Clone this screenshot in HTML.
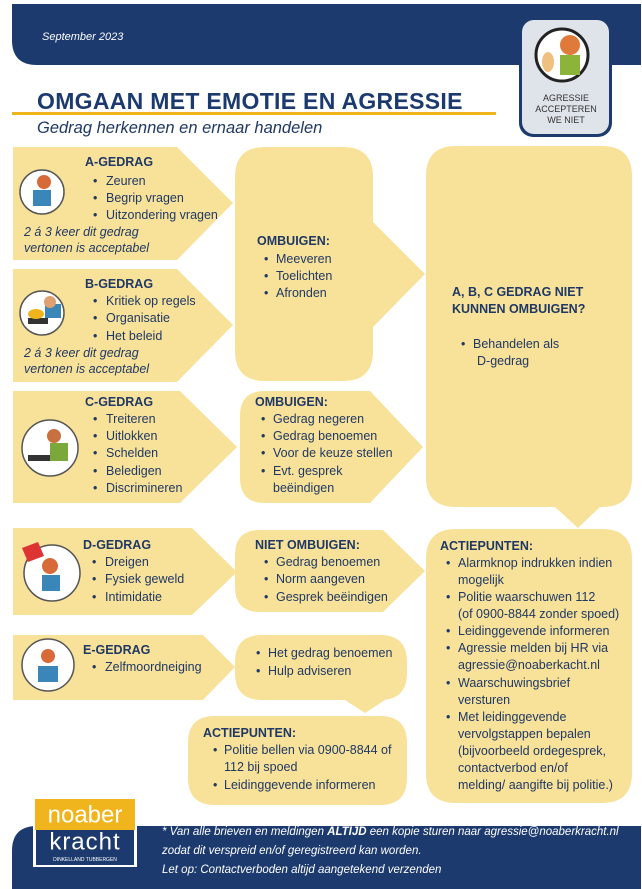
<!DOCTYPE html>
<html><head><meta charset="utf-8"><style>
html,body{margin:0;padding:0;background:#fff;}
svg{display:block;font-family:"Liberation Sans",sans-serif;}
.t{font-size:12.5px;fill:#1f3864;dominant-baseline:central;}
.b{font-size:12.5px;font-weight:bold;fill:#1f3864;dominant-baseline:central;}
.i{font-size:12.5px;font-style:italic;fill:#1f3864;dominant-baseline:central;}
.f{font-size:11.5px;font-style:italic;fill:#fff;dominant-baseline:central;}
</style></head><body>
<svg width="642" height="889" viewBox="0 0 642 889" xmlns="http://www.w3.org/2000/svg">
<!-- header -->
<path d="M12 4 H641 V65 H37 Q12 65 12 40 Z" fill="#1c3a6e"/>
<text x="42" y="37" class="f" style="font-size:11px">September 2023</text>
<rect x="519" y="17" width="93" height="120" rx="14" fill="#1c3a6e"/>
<rect x="522" y="20" width="87" height="114" rx="12" fill="#dfe3ea"/>
<circle cx="562" cy="55" r="26" fill="#fff" stroke="#222" stroke-width="3"/>
<circle cx="570" cy="45" r="10" fill="#e07a3a"/>
<rect x="560" y="55" width="20" height="20" fill="#8cb33a"/>
<ellipse cx="548" cy="62" rx="6" ry="10" fill="#f0c080"/>
<text x="566" y="101" text-anchor="middle" style="font-size:9px;fill:#333">AGRESSIE</text>
<text x="566" y="112" text-anchor="middle" style="font-size:9px;fill:#333">ACCEPTEREN</text>
<text x="566" y="123" text-anchor="middle" style="font-size:9px;fill:#333">WE NIET</text>
<text x="37" y="101" style="font-size:23px;font-weight:bold;fill:#1c3a6e;dominant-baseline:central;letter-spacing:0.3px">OMGAAN MET EMOTIE EN AGRESSIE</text>
<rect x="12" y="112" width="484" height="3" fill="#f0b41c"/>
<text x="37" y="128" style="font-size:16.5px;font-style:italic;fill:#1f3864;dominant-baseline:central">Gedrag herkennen en ernaar handelen</text>

<g fill="#f8e29a">
<!-- A / B -->
<path d="M13 147 H177 L233 203 L177 260 H13 Z"/>
<path d="M13 269 H177 L233 325 L177 382 H13 Z"/>
<!-- Ombuigen 1 -->
<path d="M265 147 H343 Q373 147 373 177 V222 L425 274 L373 327 V351 Q373 381 343 381 H265 Q235 381 235 351 V177 Q235 147 265 147 Z"/>
<!-- right big box -->
<path d="M456 146 H602 Q632 146 632 176 V477 Q632 507 602 507 H600 L578 528 L555 507 H456 Q426 507 426 477 V176 Q426 146 456 146 Z"/>
<path d="M456 529 H602 Q632 529 632 559 V773 Q632 803 602 803 H456 Q426 803 426 773 V559 Q426 529 456 529 Z"/>
<!-- C -->
<path d="M13 391 H180 L237 447 L180 503 H13 Z"/>
<path d="M265 391 H370 L423 447 L370 503 H265 Q240 503 240 478 V416 Q240 391 265 391 Z"/>
<!-- D -->
<path d="M13 528 H192 L237 572 L192 615 H13 Z"/>
<path d="M260 530 H383 L425 571 L383 612 H260 Q235 612 235 587 V555 Q235 530 260 530 Z"/>
<!-- E -->
<path d="M13 635 H203 L235 667 L203 700 H13 Z"/>
<path d="M262 635 H380 Q407 635 407 662 V673 Q407 700 380 700 H385 L365 713 L345 700 H262 Q235 700 235 673 V662 Q235 635 262 635 Z"/>
<path d="M215 716 H380 Q407 716 407 743 V778 Q407 805 380 805 H215 Q188 805 188 778 V743 Q188 716 215 716 Z"/>
</g>

<!-- icons -->
<g stroke="#555" stroke-width="1.5" fill="#fff">
<circle cx="42" cy="192" r="22"/><circle cx="42" cy="313" r="22"/>
<circle cx="50" cy="448" r="28"/><circle cx="52" cy="573" r="28"/><circle cx="48" cy="665" r="26"/>
</g>
<rect x="33" y="190" width="18" height="16" fill="#3a86b8"/><circle cx="44" cy="182" r="7" fill="#d86a3a"/>
<rect x="45" y="304" width="16" height="14" fill="#3a86b8"/><circle cx="50" cy="302" r="6" fill="#e0a070"/><rect x="28" y="318" width="20" height="6" fill="#333"/><ellipse cx="36" cy="314" rx="8" ry="5" fill="#f0b41c"/>
<rect x="50" y="443" width="18" height="18" fill="#7aa83a"/><circle cx="54" cy="436" r="7" fill="#c87040"/><rect x="28" y="455" width="22" height="6" fill="#333"/>
<rect x="42" y="575" width="18" height="16" fill="#3a86b8"/><circle cx="50" cy="566" r="8" fill="#d86a3a"/><path d="M22 548 L38 542 L44 556 L28 562 Z" fill="#d33"/>
<rect x="38" y="666" width="20" height="16" fill="#3a86b8"/><circle cx="48" cy="656" r="7" fill="#d86a3a"/>

<!-- A -->
<text x="85" y="162" class="b">A-GEDRAG</text>
<g class="t"><text x="93" y="181">•</text><text x="106" y="181">Zeuren</text>
<text x="93" y="198">•</text><text x="106" y="198">Begrip vragen</text>
<text x="93" y="215">•</text><text x="106" y="215">Uitzondering vragen</text></g>
<text x="24" y="232" class="i">2 á 3 keer dit gedrag</text>
<text x="24" y="248" class="i">vertonen is acceptabel</text>
<!-- B -->
<text x="85" y="284" class="b">B-GEDRAG</text>
<g class="t"><text x="93" y="301">•</text><text x="106" y="301">Kritiek op regels</text>
<text x="93" y="318">•</text><text x="106" y="318">Organisatie</text>
<text x="93" y="336">•</text><text x="106" y="336">Het beleid</text></g>
<text x="24" y="353" class="i">2 á 3 keer dit gedrag</text>
<text x="24" y="369" class="i">vertonen is acceptabel</text>
<!-- Ombuigen 1 -->
<text x="257" y="241" class="b">OMBUIGEN:</text>
<g class="t"><text x="264" y="259">•</text><text x="276" y="259">Meeveren</text>
<text x="264" y="276">•</text><text x="276" y="276">Toelichten</text>
<text x="264" y="293">•</text><text x="276" y="293">Afronden</text></g>
<!-- right -->
<text x="452" y="292" class="b">A, B, C GEDRAG NIET</text>
<text x="452" y="309" class="b">KUNNEN OMBUIGEN?</text>
<g class="t"><text x="461" y="344">•</text><text x="473" y="344">Behandelen als</text><text x="477" y="361">D-gedrag</text></g>
<!-- C -->
<text x="85" y="402" class="b">C-GEDRAG</text>
<g class="t"><text x="93" y="419">•</text><text x="106" y="419">Treiteren</text>
<text x="93" y="436">•</text><text x="106" y="436">Uitlokken</text>
<text x="93" y="453">•</text><text x="106" y="453">Schelden</text>
<text x="93" y="471">•</text><text x="106" y="471">Beledigen</text>
<text x="93" y="488">•</text><text x="106" y="488">Discrimineren</text></g>
<text x="255" y="402" class="b">OMBUIGEN:</text>
<g class="t"><text x="261" y="419">•</text><text x="273" y="419">Gedrag negeren</text>
<text x="261" y="436">•</text><text x="273" y="436">Gedrag benoemen</text>
<text x="261" y="453">•</text><text x="273" y="453">Voor de keuze stellen</text>
<text x="261" y="471">•</text><text x="273" y="471">Evt. gesprek</text>
<text x="273" y="488">beëindigen</text></g>
<!-- D -->
<text x="83" y="545" class="b">D-GEDRAG</text>
<g class="t"><text x="92" y="562">•</text><text x="105" y="562">Dreigen</text>
<text x="92" y="579">•</text><text x="105" y="579">Fysiek geweld</text>
<text x="92" y="597">•</text><text x="105" y="597">Intimidatie</text></g>
<text x="255" y="545" class="b">NIET OMBUIGEN:</text>
<g class="t"><text x="264" y="562">•</text><text x="276" y="562">Gedrag benoemen</text>
<text x="264" y="579">•</text><text x="276" y="579">Norm aangeven</text>
<text x="264" y="597">•</text><text x="276" y="597">Gesprek beëindigen</text></g>
<!-- E -->
<text x="83" y="650" class="b">E-GEDRAG</text>
<g class="t"><text x="92" y="667">•</text><text x="105" y="667">Zelfmoordneiging</text>
<text x="256" y="653">•</text><text x="268" y="653">Het gedrag benoemen</text>
<text x="256" y="671">•</text><text x="268" y="671">Hulp adviseren</text></g>
<text x="203" y="733" class="b">ACTIEPUNTEN:</text>
<g class="t"><text x="213" y="750">•</text><text x="224" y="750">Politie bellen via 0900-8844 of</text>
<text x="224" y="767">112 bij spoed</text>
<text x="213" y="785">•</text><text x="224" y="785">Leidinggevende informeren</text></g>
<!-- right actiepunten -->
<text x="440" y="546" class="b">ACTIEPUNTEN:</text>
<g class="t">
<text x="446" y="563">•</text><text x="458" y="563">Alarmknop indrukken indien</text>
<text x="458" y="580">mogelijk</text>
<text x="446" y="597">•</text><text x="458" y="597">Politie waarschuwen 112</text>
<text x="458" y="614">(of 0900-8844 zonder spoed)</text>
<text x="446" y="631">•</text><text x="458" y="631">Leidinggevende informeren</text>
<text x="446" y="648">•</text><text x="458" y="648">Agressie melden bij HR via</text>
<text x="458" y="665">agressie@noaberkacht.nl</text>
<text x="446" y="683">•</text><text x="458" y="683">Waarschuwingsbrief</text>
<text x="458" y="700">versturen</text>
<text x="446" y="717">•</text><text x="458" y="717">Met leidinggevende</text>
<text x="458" y="734">vervolgstappen bepalen</text>
<text x="458" y="751">(bijvoorbeeld ordegesprek,</text>
<text x="458" y="768">contactverbod en/of</text>
<text x="458" y="785">melding/ aangifte bij politie.)</text></g>

<!-- footer -->
<path d="M37 826 H641 V889 H12 V851 Q12 826 37 826 Z" fill="#1c3a6e"/>
<rect x="33" y="797" width="104" height="70" fill="#fff"/>
<rect x="35" y="799" width="100" height="31" fill="#f0b41c"/>
<rect x="36" y="830" width="98" height="35" fill="#1c3a6e"/>
<text x="85" y="815" text-anchor="middle" style="font-size:24px;fill:#fff;dominant-baseline:central">noaber</text>
<text x="85" y="842" text-anchor="middle" style="font-size:24px;fill:#fff;dominant-baseline:central;letter-spacing:1px">kracht</text>
<text x="85" y="860" text-anchor="middle" style="font-size:5px;fill:#fff;dominant-baseline:central">DINKELLAND TUBBERGEN</text>
<text x="162" y="832" class="f">* Van alle brieven en meldingen <tspan font-weight="bold">ALTIJD</tspan> een kopie sturen naar agressie@noaberkracht.nl</text>
<text x="162" y="851" class="f">zodat dit verspreid en/of geregistreerd kan worden.</text>
<text x="162" y="870" class="f">Let op: Contactverboden altijd aangetekend verzenden</text>
</svg>
</body></html>
